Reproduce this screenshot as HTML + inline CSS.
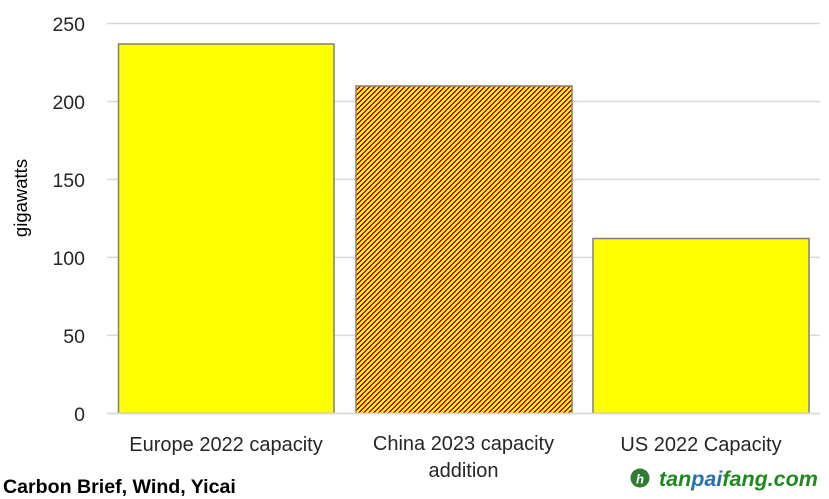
<!DOCTYPE html>
<html>
<head>
<meta charset="utf-8">
<style>
  html, body { margin: 0; padding: 0; background: #fff; }
  body { width: 829px; height: 499px; overflow: hidden; }
  svg { display: block; }
  text { font-family: "Liberation Sans", sans-serif; }
</style>
</head>
<body>
<svg width="829" height="499" viewBox="0 0 829 499" xmlns="http://www.w3.org/2000/svg">
  <defs>
    <pattern id="diag" x="0" y="0" width="5" height="5" patternUnits="userSpaceOnUse">
      <rect x="0" y="0" width="5" height="5" fill="#ffff00"/>
      <g fill="#d40000" shape-rendering="crispEdges">
        <rect x="0" y="0" width="2" height="1"/>
        <rect x="0" y="1" width="1" height="1"/>
        <rect x="4" y="1" width="1" height="1"/>
        <rect x="3" y="2" width="2" height="1"/>
        <rect x="2" y="3" width="2" height="1"/>
        <rect x="1" y="4" width="2" height="1"/>
      </g>
    </pattern>
  </defs>

  <!-- gridlines -->
  <g stroke="#d9d9d9" stroke-width="1.5">
    <line x1="107" y1="23.5" x2="820" y2="23.5"/>
    <line x1="107" y1="101.5" x2="820" y2="101.5"/>
    <line x1="107" y1="179.4" x2="820" y2="179.4"/>
    <line x1="107" y1="257.4" x2="820" y2="257.4"/>
    <line x1="107" y1="335.4" x2="820" y2="335.4"/>
  </g>

  <!-- bars -->
  <rect x="118.5" y="44" width="215.5" height="369.3" fill="#ffff00" stroke="#7f7f7f" stroke-width="1.5"/>
  <rect x="356" y="86" width="216" height="327.3" fill="url(#diag)" stroke="#7f7f7f" stroke-width="1.5"/>
  <rect x="593" y="238.5" width="216" height="174.8" fill="#ffff00" stroke="#7f7f7f" stroke-width="1.5"/>

  <!-- x axis -->
  <line x1="107" y1="413.5" x2="820" y2="413.5" stroke="#d9d9d9" stroke-width="1.8"/>

  <!-- y tick labels -->
  <g font-size="19.5" fill="#262626" text-anchor="end">
    <text x="85" y="31">250</text>
    <text x="85" y="109">200</text>
    <text x="85" y="187">150</text>
    <text x="85" y="265">100</text>
    <text x="85" y="343">50</text>
    <text x="85" y="421">0</text>
  </g>

  <!-- y axis title -->
  <text x="0" y="0" font-size="18.5" fill="#000" text-anchor="middle" transform="translate(27,198) rotate(-90)">gigawatts</text>

  <!-- category labels -->
  <g font-size="20" fill="#262626" text-anchor="middle">
    <text x="226" y="451">Europe 2022 capacity</text>
    <text x="463.5" y="450">China 2023 capacity</text>
    <text x="463.5" y="477">addition</text>
    <text x="701" y="451">US 2022 Capacity</text>
  </g>

  <!-- source -->
  <text x="3" y="493" font-size="19.6" font-weight="bold" fill="#000">Carbon Brief, Wind, Yicai</text>

  <!-- watermark -->
  <circle cx="640" cy="478" r="9.5" fill="#2e7d32"/>
  <text x="640" y="483.5" font-size="13" font-weight="bold" fill="#fff" text-anchor="middle" font-style="italic">h</text>
  <text x="659" y="486" font-size="21.5" font-weight="bold" font-style="italic" fill="#1e8a1e">tan<tspan fill="#2a6fb0">pai</tspan>fang.com</text>
</svg>
</body>
</html>
